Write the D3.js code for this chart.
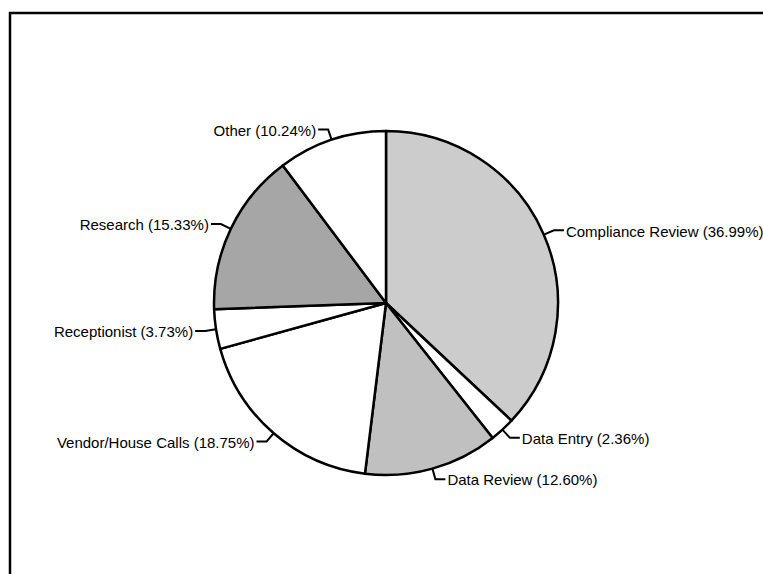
<!DOCTYPE html>
<html>
<head>
<meta charset="utf-8">
<script src="https://cdn.jsdelivr.net/npm/d3@7/dist/d3.min.js"></script>
<style>
  html, body { margin: 0; padding: 0; background: #ffffff; }
  svg { display: block; }
  text { font-family: "Liberation Sans", Arial, sans-serif; font-size: 15px; fill: #000; }
</style>
</head>
<body>
<svg id="chart" width="763" height="574"></svg>
<script>
// Share of time per activity, clockwise from 12 o'clock
const categories = ["Compliance Review", "Data Entry", "Data Review", "Vendor/House Calls", "Receptionist", "Research", "Other"];
const shares = [36.99, 2.36, 12.60, 18.75, 3.73, 15.33, 10.24];
const fills = ["#cccccc", "#ffffff", "#c0c0c0", "#ffffff", "#ffffff", "#a6a6a6", "#ffffff"];

const width = 763, height = 574;
const cx = 386, cy = 303, radius = 172;
const leaderOut = 11, leaderRun = 10, labelGap = 2;

const svg = d3.select("#chart");

// Frame around the chart area
svg.append("path")
  .attr("d", `M10,${height + 5} L10,13 L${width + 5},13`)
  .attr("fill", "none")
  .attr("stroke", "#000")
  .attr("stroke-width", 2.5);

const data = categories.map((c, i) => ({ name: c, value: shares[i], fill: fills[i] }));

const pie = d3.pie().value(d => d.value).sort(null).startAngle(0).endAngle(2 * Math.PI);
const arcs = pie(data);
const arc = d3.arc().innerRadius(0).outerRadius(radius);

const g = svg.append("g").attr("transform", `translate(${cx},${cy})`);

g.selectAll("path.slice")
  .data(arcs)
  .join("path")
  .attr("class", "slice")
  .attr("d", arc)
  .attr("fill", d => d.data.fill)
  .attr("stroke", "#000")
  .attr("stroke-width", 2.5)
  .attr("stroke-linejoin", "round");

// Leader lines: short radial tick off the rim, then a horizontal run to the label
function polar(a, r) { return [Math.sin(a) * r, -Math.cos(a) * r]; }

const labels = g.selectAll("g.label")
  .data(arcs)
  .join("g")
  .attr("class", "label");

labels.each(function(d) {
  const mid = (d.startAngle + d.endAngle) / 2;
  const p0 = polar(mid, radius);
  const p1 = polar(mid, radius + leaderOut);
  const right = Math.sin(mid) >= 0;
  const x2 = p1[0] + (right ? leaderRun : -leaderRun);
  const sel = d3.select(this);
  sel.append("path")
    .attr("d", `M${p0[0]},${p0[1]} L${p1[0]},${p1[1]} L${x2},${p1[1]}`)
    .attr("fill", "none")
    .attr("stroke", "#000")
    .attr("stroke-width", 2);
  sel.append("text")
    .attr("x", x2 + (right ? labelGap : -labelGap))
    .attr("y", p1[1] + 1)
    .attr("dy", "0.35em")
    .attr("text-anchor", right ? "start" : "end")
    .text(`${d.data.name} (${d.data.value.toFixed(2)}%)`);
});
</script>
</body>
</html>
